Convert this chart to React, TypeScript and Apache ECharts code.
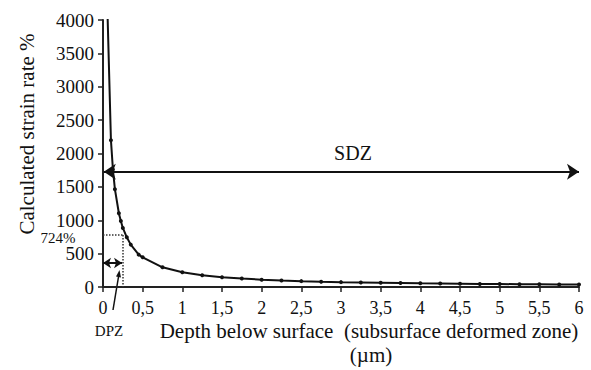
import React, { useEffect, useRef } from "react";
import * as echarts from "echarts";

const depth = [0.05, 0.1, 0.125, 0.15, 0.2, 0.225, 0.25, 0.3, 0.35, 0.45, 0.5, 0.75, 1, 1.25, 1.5, 1.75, 2, 2.25, 2.5, 2.75, 3, 3.25, 3.5, 3.75, 4, 4.25, 4.5, 4.75, 5, 5.25, 5.5, 5.75, 6];
const strainRate = [4400, 2200, 1760, 1465, 1105, 990, 885, 745, 635, 485, 445, 295, 220, 175, 147, 126, 110, 98, 88, 80, 73, 68, 63, 59, 55, 52, 49, 46, 44, 42, 40, 38, 37];

const sdzLevel = 1727;
const dpzArrowLevel = 360;
const dpzDepth = 0.255;
const dpzRate = 780;

const FONT = "Times New Roman, Liberation Serif, serif";

export default function App() {
  const ref = useRef<HTMLDivElement>(null);
  useEffect(() => {
    if (!ref.current) return;
    const chart = echarts.init(ref.current, null, { renderer: "svg" });
    const data = depth.map((d, i) => [d, strainRate[i]]);
    const solid = { color: "#111", width: 2, type: "solid" };
    const dotted = { color: "#333", width: 1.5, type: "dotted" };
    chart.setOption({
      animation: false,
      backgroundColor: "#ffffff",
      textStyle: { fontFamily: FONT },
      grid: { left: 103, right: 12, top: 20, bottom: 83 },
      xAxis: {
        type: "value",
        min: 0,
        max: 6,
        interval: 0.5,
        splitLine: { show: false },
        axisLine: { lineStyle: { color: "#222", width: 2 } },
        axisTick: { show: true, length: 5, lineStyle: { color: "#222", width: 1.5 } },
        axisLabel: {
          color: "#111",
          fontFamily: FONT,
          fontSize: 18,
          margin: 12,
          formatter: (v: number) => String(v).replace(".", ","),
        },
      },
      yAxis: {
        type: "value",
        min: 0,
        max: 4000,
        interval: 500,
        splitLine: { show: false },
        axisLine: { show: true, lineStyle: { color: "#222", width: 2 } },
        axisTick: { show: true, length: 5, lineStyle: { color: "#222", width: 1.5 } },
        axisLabel: {
          color: "#111",
          fontFamily: FONT,
          fontSize: 19,
          margin: 9,
          formatter: (v: number) => String(v),
        },
      },
      series: [
        {
          type: "line",
          data,
          clip: true,
          symbol: "circle",
          symbolSize: 4,
          itemStyle: { color: "#111" },
          lineStyle: { color: "#111", width: 2 },
          markLine: {
            silent: true,
            animation: false,
            label: { show: false },
            symbol: ["none", "none"],
            data: [
              [
                { coord: [0.01, sdzLevel], symbol: "arrow", symbolSize: 12, lineStyle: solid },
                { coord: [6, sdzLevel], symbol: "arrow", symbolSize: 12 },
              ],
              [
                { coord: [0.0, dpzArrowLevel], symbol: "arrow", symbolSize: 8, lineStyle: solid },
                { coord: [0.24, dpzArrowLevel], symbol: "arrow", symbolSize: 8 },
              ],
              [
                { coord: [0, dpzRate], symbol: "none", lineStyle: dotted },
                { coord: [dpzDepth, dpzRate], symbol: "none" },
              ],
              [
                { coord: [dpzDepth, dpzRate], symbol: "none", lineStyle: dotted },
                { coord: [dpzDepth, 0], symbol: "none" },
              ],
            ],
          },
        },
      ],
      graphic: [
        {
          type: "text",
          x: 27,
          y: 134,
          rotation: Math.PI / 2,
          style: {
            text: "Calculated strain rate %",
            fontFamily: FONT,
            fontSize: 21,
            fill: "#111",
            align: "center",
            verticalAlign: "middle",
          },
        },
        {
          type: "text",
          x: 58,
          y: 238,
          style: { text: "724%", fontFamily: FONT, fontSize: 15, fill: "#111", align: "center", verticalAlign: "middle" },
        },
        {
          type: "text",
          x: 353,
          y: 153,
          style: { text: "SDZ", fontFamily: FONT, fontSize: 20, fill: "#111", align: "center", verticalAlign: "middle" },
        },
        {
          type: "text",
          x: 109,
          y: 331,
          style: { text: "DPZ", fontFamily: FONT, fontSize: 15, fill: "#111", align: "center", verticalAlign: "middle" },
        },
        {
          type: "text",
          x: 369,
          y: 331,
          style: {
            text: "Depth below surface  (subsurface deformed zone)",
            fontFamily: FONT,
            fontSize: 21,
            fill: "#111",
            align: "center",
            verticalAlign: "middle",
          },
        },
        {
          type: "text",
          x: 371,
          y: 355,
          style: { text: "(\u00b5m)", fontFamily: FONT, fontSize: 21, fill: "#111", align: "center", verticalAlign: "middle" },
        },
        {
          type: "line",
          shape: { x1: 113, y1: 310, x2: 118.8, y2: 275 },
          style: { stroke: "#111", lineWidth: 1.5 },
        },
        {
          type: "polygon",
          shape: { points: [[119.5, 270], [121, 277.5], [116, 276.6]] },
          style: { fill: "#111" },
        },
      ],
    });
    return () => chart.dispose();
  }, []);
  return <div ref={ref} style={{ position: "absolute", left: 0, top: 0, width: 591, height: 370 }} />;
}
